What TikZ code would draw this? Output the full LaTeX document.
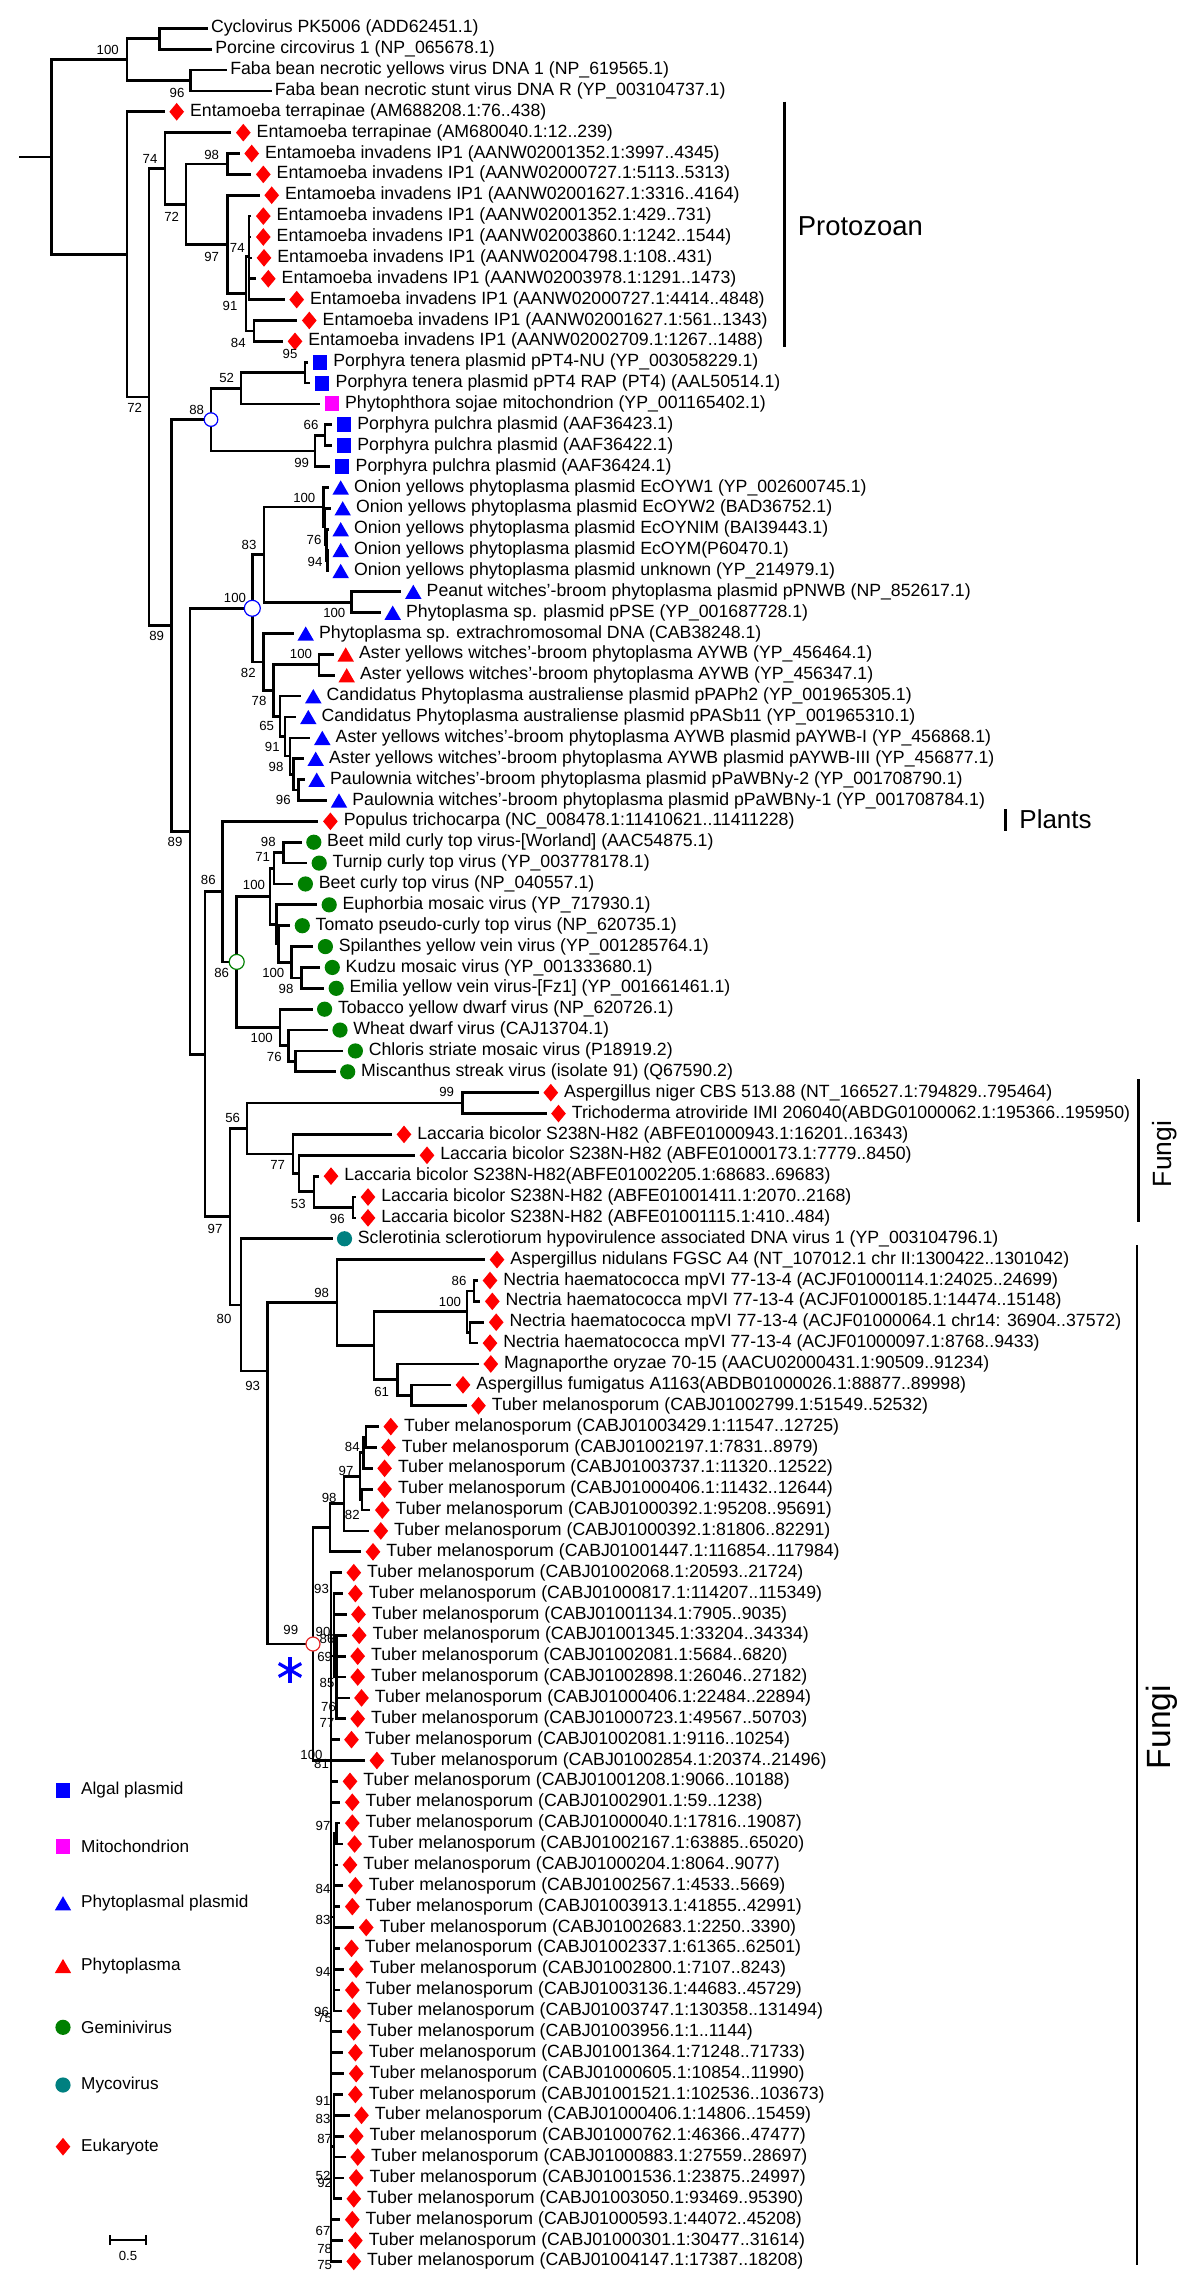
\documentclass[tikz,border=0pt]{standalone}
\usepackage{fontspec}
\setmainfont{Liberation Sans}
\usetikzlibrary{shapes.geometric}
\definecolor{mred}{RGB}{255,0,0}
\definecolor{mblue}{RGB}{0,0,255}
\definecolor{mmag}{RGB}{255,0,255}
\definecolor{mgreen}{RGB}{0,128,0}
\definecolor{mteal}{RGB}{0,128,128}
\newcommand{\lf}[5]{%
  \coordinate (e#2) at ({#4-12},{28.3+(#2-1)*20.87});
  \draw[br] (#1) |- (e#2);
  \node[#3] (m#2) at ({#4},{28.3+(#2-1)*20.87}) {};
  \node[lbl] (t#2) at ({#4+13},{28.3+(#2-1)*20.87}) {#5};}
\newcommand{\lfn}[4]{%
  \coordinate (e#2) at ({#3},{28.3+(#2-1)*20.87});
  \draw[br] (#1) |- (e#2);
  \node[lbl] (t#2) at ({#3+3},{28.3+(#2-1)*20.87}) {#4};}
\newcommand{\tmel}[1]{Tuber melanosporum (CABJ#1)}
\newcommand{\einv}[1]{Entamoeba invadens IP1 (AANW#1)}
\newcommand{\lbic}{Laccaria bicolor S238N-H82}
\newcommand{\nhae}{Nectria haematococca mpVI 77-13-4}
\begin{document}
\begin{tikzpicture}[x=0.5pt,y=-0.5pt,
  br/.style={line width=1.35pt, line join=miter},
  dia/.style={diamond, fill=mred, draw=none, minimum width=7.5pt, minimum height=9pt, inner sep=0pt},
  sqb/.style={rectangle, fill=mblue, draw=none, minimum width=7pt, minimum height=7.5pt, inner sep=0pt},
  sqm/.style={sqb, fill=mmag},
  trb/.style={regular polygon, regular polygon sides=3, fill=mblue, draw=none, minimum size=9.5pt, inner sep=0pt, yshift=-1.2pt},
  trr/.style={trb, fill=mred},
  cg/.style={circle, fill=mgreen, draw=none, minimum size=7.6pt, inner sep=0pt},
  ct/.style={cg, fill=mteal},
  lbl/.style={anchor=west, inner sep=0pt, font=\fontsize{8.85}{10}\selectfont},
  leg/.style={anchor=west, inner sep=0pt, font=\fontsize{8.6}{10}\selectfont},
  bs/.style={inner sep=0pt, font=\fontsize{6.6}{7}\selectfont},
  ocirc/.style={circle, fill=white, line width=0.6pt, inner sep=0pt},
  gbar/.style={line width=1.5pt},
  grp/.style={inner sep=0pt}
]
\fill[white] (0,0) rectangle (1200,2289);
\useasboundingbox (0,0) rectangle (1200,2289);

% ---------- internal nodes ----------
\coordinate (rs) at (19.2,157);
\coordinate (R) at (51.5,157);
\coordinate (CIRC) at (126.9,59.6);
\coordinate (CY) at (159.2,38.7);
\coordinate (FB) at (190.8,80.5);
\coordinate (B) at (126.9,254.4);
\coordinate (C) at (149,397);
\coordinate (D) at (165,168.4);
\coordinate (X72) at (186,204.2);
\coordinate (X98) at (227.7,164);
\coordinate (N97) at (227.7,244.5);
\coordinate (N91) at (246,293.8);
\coordinate (N74) at (249,256.7);
\coordinate (N84) at (254,330.9);
\coordinate (E) at (171.7,625.5);
\coordinate (N88) at (211,419.6);
\coordinate (N52) at (241,388.3);
\coordinate (N95) at (305,372.7);
\coordinate (N99p) at (315,450.9);
\coordinate (N66) at (325,435.3);
\coordinate (G) at (190,831.3);
\coordinate (H) at (252.3,608.3);
\coordinate (J) at (264,554.6);
\coordinate (O1) at (323.3,507);
\coordinate (O2) at (325,526.6);
\coordinate (O3) at (326.3,544.8);
\coordinate (O4) at (327.3,560.5);
\coordinate (PN) at (351.7,602.2);
\coordinate (K) at (263.3,662.1);
\coordinate (L) at (273.3,690.6);
\coordinate (AY) at (319,664.8);
\coordinate (M) at (280,716.4);
\coordinate (N) at (285,736.6);
\coordinate (O) at (290,756.1);
\coordinate (P) at (293.3,774.4);
\coordinate (Q) at (298.3,790.1);
\coordinate (I) at (205,1054.2);
\coordinate (PL) at (222.7,891.6);
\coordinate (GEM) at (236.7,961.9);
\coordinate (Gm1) at (270,896.4);
\coordinate (N71) at (274,868.3);
\coordinate (BM) at (283.3,852.7);
\coordinate (Gm2) at (276.7,924.4);
\coordinate (Gm3) at (278.3,944);
\coordinate (Gm4) at (291.7,962.2);
\coordinate (Gm5) at (301.7,977.9);
\coordinate (LG) at (280,1027.4);
\coordinate (W76) at (288.3,1045.7);
\coordinate (CM) at (295.7,1061.4);
\coordinate (FU) at (230,1216.8);
\coordinate (N56) at (247,1128.6);
\coordinate (AN) at (462.5,1103.1);
\coordinate (N77) at (293,1154);
\coordinate (LB2) at (299,1173.5);
\coordinate (N53) at (314,1191.8);
\coordinate (N96) at (353,1207.5);
\coordinate (N80) at (241,1304.9);
\coordinate (T93) at (267.7,1371);
\coordinate (A98) at (337,1302.7);
\coordinate (NX) at (374,1345.7);
\coordinate (N0) at (467,1311.8);
\coordinate (N86n) at (474,1290.9);
\coordinate (N1n) at (470,1332.7);
\coordinate (MG) at (397.7,1379.6);
\coordinate (M61) at (411.5,1395.3);
\coordinate (C99) at (313,1644);
\coordinate (S6) at (330,1527.7);
\coordinate (S5) at (344,1503.6);
\coordinate (S4) at (360,1476.2);
\coordinate (S2) at (363.5,1452.7);
\coordinate (S1) at (366,1437);
\coordinate (S3) at (362,1499.6);
\coordinate (L100) at (331,1760.5);
\coordinate (SA) at (334,1656);
\coordinate (SA2) at (336.5,1677);
\coordinate (SB) at (334,1917);
\coordinate (SB2) at (336.5,1833.7);
\coordinate (SC) at (334,2146.8);

% ---------- internal edges ----------
\draw[br] (rs) -- (R);
\foreach \p/\c in {R/CIRC,R/B,CIRC/CY,CIRC/FB,B/C,C/D,C/E,D/X72,X72/X98,X72/N97,N97/N91,N91/N74,N91/N84,
  E/N88,E/G,N88/N52,N88/N99p,N52/N95,N99p/N66,G/H,G/I,H/J,H/K,J/O1,J/PN,O1/O2,O2/O3,O3/O4,
  K/L,L/AY,L/M,M/N,N/O,O/P,P/Q,I/PL,I/FU,PL/GEM,GEM/Gm1,GEM/LG,Gm1/N71,N71/BM,Gm1/Gm2,Gm2/Gm3,Gm3/Gm4,Gm4/Gm5,
  LG/W76,W76/CM,FU/N56,FU/N80,N56/AN,N56/N77,N77/LB2,LB2/N53,N53/N96,N80/T93,T93/A98,T93/C99,A98/NX,NX/N0,NX/MG,
  N0/N86n,N0/N1n,MG/M61,C99/S6,C99/L100,S6/S5,S5/S4,S4/S2,S4/S3,S2/S1,L100/SA,SA/SA2,L100/SB,SB/SB2,L100/SC}
  {\draw[br] (\p) |- (\c);}

% ---------- leaves ----------
\lfn{CY}{1}{207.7}{Cyclovirus PK5006 (ADD62451.1)}
\lfn{CY}{2}{212}{Porcine circovirus 1 (NP\_065678.1)}
\lfn{FB}{3}{226.9}{Faba bean necrotic yellows virus DNA 1 (NP\_619565.1)}
\lfn{FB}{4}{271.5}{Faba bean necrotic stunt virus DNA R (YP\_003104737.1)}
\lf{B}{5}{dia}{176.7}{Entamoeba terrapinae (AM688208.1:76..438)}
\lf{D}{6}{dia}{243.3}{Entamoeba terrapinae (AM680040.1:12..239)}
\lf{X98}{7}{dia}{251.7}{\einv{02001352.1:3997..4345}}
\lf{X98}{8}{dia}{263.3}{\einv{02000727.1:5113..5313}}
\lf{N97}{9}{dia}{271.7}{\einv{02001627.1:3316..4164}}
\lf{N74}{10}{dia}{263.3}{\einv{02001352.1:429..731}}
\lf{N74}{11}{dia}{263.3}{\einv{02003860.1:1242..1544}}
\lf{N74}{12}{dia}{264}{\einv{02004798.1:108..431}}
\lf{N74}{13}{dia}{268.3}{\einv{02003978.1:1291..1473}}
\lf{N74}{14}{dia}{296.7}{\einv{02000727.1:4414..4848}}
\lf{N84}{15}{dia}{309.3}{\einv{02001627.1:561..1343}}
\lf{N84}{16}{dia}{295}{\einv{02002709.1:1267..1488}}
\lf{N95}{17}{sqb}{320}{Porphyra tenera plasmid pPT4-NU (YP\_003058229.1)}
\lf{N95}{18}{sqb}{322.3}{Porphyra tenera plasmid pPT4 RAP (PT4) (AAL50514.1)}
\lf{N52}{19}{sqm}{331.7}{Phytophthora sojae mitochondrion (YP\_001165402.1)}
\lf{N66}{20}{sqb}{344}{Porphyra pulchra plasmid (AAF36423.1)}
\lf{N66}{21}{sqb}{344}{Porphyra pulchra plasmid (AAF36422.1)}
\lf{N99p}{22}{sqb}{342.3}{Porphyra pulchra plasmid (AAF36424.1)}
\lf{O1}{23}{trb}{340.7}{Onion yellows phytoplasma plasmid EcOYW1 (YP\_002600745.1)}
\lf{O2}{24}{trb}{342.7}{Onion yellows phytoplasma plasmid EcOYW2 (BAD36752.1)}
\lf{O3}{25}{trb}{340.7}{Onion yellows phytoplasma plasmid EcOYNIM (BAI39443.1)}
\lf{O4}{26}{trb}{340.7}{Onion yellows phytoplasma plasmid EcOYM(P60470.1)}
\lf{O4}{27}{trb}{340.7}{Onion yellows phytoplasma plasmid unknown (YP\_214979.1)}
\lf{PN}{28}{trb}{413.3}{Peanut witches'-broom phytoplasma plasmid pPNWB (NP\_852617.1)}
\lf{PN}{29}{trb}{392.7}{Phytoplasma sp. plasmid pPSE (YP\_001687728.1)}
\lf{K}{30}{trb}{305.7}{Phytoplasma sp. extrachromosomal DNA (CAB38248.1)}
\lf{AY}{31}{trr}{345.7}{Aster yellows witches'-broom phytoplasma AYWB (YP\_456464.1)}
\lf{AY}{32}{trr}{346.7}{Aster yellows witches'-broom phytoplasma AYWB (YP\_456347.1)}
\lf{M}{33}{trb}{313.3}{Candidatus Phytoplasma australiense plasmid pPAPh2 (YP\_001965305.1)}
\lf{N}{34}{trb}{308.3}{Candidatus Phytoplasma australiense plasmid pPASb11 (YP\_001965310.1)}
\lf{O}{35}{trb}{322.3}{Aster yellows witches'-broom phytoplasma AYWB plasmid pAYWB-I (YP\_456868.1)}
\lf{P}{36}{trb}{315.7}{Aster yellows witches'-broom phytoplasma AYWB plasmid pAYWB-III (YP\_456877.1)}
\lf{Q}{37}{trb}{316.7}{Paulownia witches'-broom phytoplasma plasmid pPaWBNy-2 (YP\_001708790.1)}
\lf{Q}{38}{trb}{339}{Paulownia witches'-broom phytoplasma plasmid pPaWBNy-1 (YP\_001708784.1)}
\lf{PL}{39}{dia}{330.4}{Populus trichocarpa (NC\_008478.1:11410621..11411228)}
\lf{BM}{40}{cg}{313.8}{Beet mild curly top virus-[Worland] (AAC54875.1)}
\lf{BM}{41}{cg}{319.2}{Turnip curly top virus (YP\_003778178.1)}
\lf{N71}{42}{cg}{305.4}{Beet curly top virus (NP\_040557.1)}
\lf{Gm2}{43}{cg}{329.2}{Euphorbia mosaic virus (YP\_717930.1)}
\lf{Gm3}{44}{cg}{302.3}{Tomato pseudo-curly top virus (NP\_620735.1)}
\lf{Gm4}{45}{cg}{325.4}{Spilanthes yellow vein virus (YP\_001285764.1)}
\lf{Gm5}{46}{cg}{332.3}{Kudzu mosaic virus (YP\_001333680.1)}
\lf{Gm5}{47}{cg}{336.2}{Emilia yellow vein virus-[Fz1] (YP\_001661461.1)}
\lf{LG}{48}{cg}{324.6}{Tobacco yellow dwarf virus (NP\_620726.1)}
\lf{W76}{49}{cg}{340}{Wheat dwarf virus (CAJ13704.1)}
\lf{CM}{50}{cg}{355.4}{Chloris striate mosaic virus (P18919.2)}
\lf{CM}{51}{cg}{347.7}{Miscanthus streak virus (isolate 91) (Q67590.2)}
\lf{AN}{52}{dia}{550.8}{Aspergillus niger CBS 513.88 (NT\_166527.1:794829..795464)}
\lf{AN}{53}{dia}{558.5}{Trichoderma atroviride IMI 206040(ABDG01000062.1:195366..195950)}
\lf{N77}{54}{dia}{404}{\lbic{} (ABFE01000943.1:16201..16343)}
\lf{LB2}{55}{dia}{427}{\lbic{} (ABFE01000173.1:7779..8450)}
\lf{N53}{56}{dia}{331}{\lbic(ABFE01002205.1:68683..69683)}
\lf{N96}{57}{dia}{368}{\lbic{} (ABFE01001411.1:2070..2168)}
\lf{N96}{58}{dia}{368}{\lbic{} (ABFE01001115.1:410..484)}
\lf{N80}{59}{ct}{344.5}{Sclerotinia sclerotiorum hypovirulence associated DNA virus 1 (YP\_003104796.1)}
\lf{A98}{60}{dia}{497}{Aspergillus nidulans FGSC A4 (NT\_107012.1 chr II:1300422..1301042)}
\lf{N86n}{61}{dia}{490}{\nhae{} (ACJF01000114.1:24025..24699)}
\lf{N86n}{62}{dia}{492.3}{\nhae{} (ACJF01000185.1:14474..15148)}
\lf{N1n}{63}{dia}{496.2}{\nhae{} (ACJF01000064.1 chr14: 36904..37572)}
\lf{N1n}{64}{dia}{490}{\nhae{} (ACJF01000097.1:8768..9433)}
\lf{MG}{65}{dia}{490.8}{Magnaporthe oryzae 70-15 (AACU02000431.1:90509..91234)}
\lf{M61}{66}{dia}{463}{Aspergillus fumigatus A1163(ABDB01000026.1:88877..89998)}
\lf{M61}{67}{dia}{478.5}{\tmel{01002799.1:51549..52532}}
\lf{S1}{68}{dia}{390.8}{\tmel{01003429.1:11547..12725}}
\lf{S1}{69}{dia}{388.5}{\tmel{01002197.1:7831..8979}}
\lf{S2}{70}{dia}{384.6}{\tmel{01003737.1:11320..12522}}
\lf{S3}{71}{dia}{384.6}{\tmel{01000406.1:11432..12644}}
\lf{S3}{72}{dia}{382.3}{\tmel{01000392.1:95208..95691}}
\lf{S5}{73}{dia}{380.8}{\tmel{01000392.1:81806..82291}}
\lf{S6}{74}{dia}{373}{\tmel{01001447.1:116854..117984}}
\lf{L100}{75}{dia}{353.8}{\tmel{01002068.1:20593..21724}}
\lf{SA}{76}{dia}{355.4}{\tmel{01000817.1:114207..115349}}
\lf{SA}{77}{dia}{358.5}{\tmel{01001134.1:7905..9035}}
\lf{SA2}{78}{dia}{359.2}{\tmel{01001345.1:33204..34334}}
\lf{SA2}{79}{dia}{357.7}{\tmel{01002081.1:5684..6820}}
\lf{SA2}{80}{dia}{357.7}{\tmel{01002898.1:26046..27182}}
\lf{SA2}{81}{dia}{361.5}{\tmel{01000406.1:22484..22894}}
\lf{SA2}{82}{dia}{357.7}{\tmel{01000723.1:49567..50703}}
\lf{L100}{83}{dia}{351.5}{\tmel{01002081.1:9116..10254}}
\lf{L100}{84}{dia}{376.9}{\tmel{01002854.1:20374..21496}}
\lf{L100}{85}{dia}{350}{\tmel{01001208.1:9066..10188}}
\lf{L100}{86}{dia}{352.3}{\tmel{01002901.1:59..1238}}
\lf{SB2}{87}{dia}{352.3}{\tmel{01000040.1:17816..19087}}
\lf{SB2}{88}{dia}{354.6}{\tmel{01002167.1:63885..65020}}
\lf{SB}{89}{dia}{350}{\tmel{01000204.1:8064..9077}}
\lf{SB}{90}{dia}{355.4}{\tmel{01002567.1:4533..5669}}
\lf{SB}{91}{dia}{352.3}{\tmel{01003913.1:41855..42991}}
\lf{SB}{92}{dia}{366.2}{\tmel{01002683.1:2250..3390}}
\lf{SB}{93}{dia}{351.5}{\tmel{01002337.1:61365..62501}}
\lf{SB}{94}{dia}{356.2}{\tmel{01002800.1:7107..8243}}
\lf{SB}{95}{dia}{352.3}{\tmel{01003136.1:44683..45729}}
\lf{SB}{96}{dia}{353.8}{\tmel{01003747.1:130358..131494}}
\lf{L100}{97}{dia}{353.8}{\tmel{01003956.1:1..1144}}
\lf{L100}{98}{dia}{355.4}{\tmel{01001364.1:71248..71733}}
\lf{L100}{99}{dia}{356.2}{\tmel{01000605.1:10854..11990}}
\lf{SC}{100}{dia}{355.4}{\tmel{01001521.1:102536..103673}}
\lf{SC}{101}{dia}{361.5}{\tmel{01000406.1:14806..15459}}
\lf{SC}{102}{dia}{356.2}{\tmel{01000762.1:46366..47477}}
\lf{SC}{103}{dia}{357.7}{\tmel{01000883.1:27559..28697}}
\lf{SC}{104}{dia}{356.2}{\tmel{01001536.1:23875..24997}}
\lf{SC}{105}{dia}{353.8}{\tmel{01003050.1:93469..95390}}
\lf{L100}{106}{dia}{352.3}{\tmel{01000593.1:44072..45208}}
\lf{L100}{107}{dia}{355.4}{\tmel{01000301.1:30477..31614}}
\lf{L100}{108}{dia}{353.8}{\tmel{01004147.1:17387..18208}}

% ---------- open circles at nodes ----------
\node[ocirc, draw=mblue, minimum size=6.8pt] (cN88) at (N88) {};
\node[ocirc, draw=mblue, minimum size=8pt] (cH) at (H) {};
\node[ocirc, draw=mgreen, minimum size=7.5pt] (cGEM) at (GEM) {};
\node[ocirc, draw={rgb,255:red,230;green,40;blue,40}, minimum size=7pt] (cC99) at (C99) {};

% ---------- asterisk ----------
\coordinate (ast) at (290,1670);
\draw[mblue, line width=1.6pt] ([yshift=6.5pt]ast) -- ([yshift=-6.5pt]ast);
\draw[mblue, line width=1.6pt] ([shift={(30:6.5pt)}]ast) -- ([shift={(210:6.5pt)}]ast);
\draw[mblue, line width=1.6pt] ([shift={(150:6.5pt)}]ast) -- ([shift={(330:6.5pt)}]ast);

% ---------- bootstrap values ----------
\foreach \x/\y/\t [count=\i] in {
 107.7/50/100, 177/93.3/96, 150/159.3/74, 211.7/155/98, 171.7/217.3/72, 211.7/256.7/97, 237.3/248.3/74,
 230/306/91, 238.3/343.3/84, 134.6/408.3/72, 290/354/95, 226.7/378.3/52, 196.7/410/88, 311/425/66,
 301.7/462.7/99, 304.3/497.7/100, 249/545/83, 314/540/76, 315/561.7/94, 235/597.7/100, 334.3/612.7/100,
 156.7/636/89, 301/654/100, 248.3/673.3/82, 259/701/78, 266.7/726/65, 272.3/746.7/91, 276/766.7/98,
 283.3/800/96, 175/841.7/89, 268.3/841.7/98, 262.7/856.7/71, 208.3/879.7/86, 254/884.6/100,
 221.7/973/86, 273.3/973/100, 286/988.6/98, 261.7/1038.2/100, 274.3/1057.3/76, 446.7/1092/99,
 232.7/1118/56, 277.7/1164.8/77, 298.3/1203.7/53, 337.3/1218.6/96, 215/1229/97, 459/1281/86,
 321.7/1293.2/98, 450/1301.8/100, 224/1318.5/80, 252.7/1386/93, 381.7/1392/61,
 352.3/1446.7/84, 346/1470.7/97, 329.2/1497.7/98, 352.3/1515/82, 321.5/1589.3/93, 290.8/1630/99,
 323/1631.7/90, 327/1639/86, 324.6/1657.3/69, 327/1683.3/85, 328.5/1706.7/76, 327/1722.7/77,
 311.5/1755/100, 321.5/1764/81, 323/1826/97, 323/1889/84, 323/1920/83, 323/1972.3/94,
 321.5/2011.7/96, 324.6/2018.3/75, 323/2101/91, 323/2119.3/83, 324.6/2139.3/87, 323/2176/52,
 324.6/2183.3/92, 323/2231/67, 324.6/2249/78, 324.6/2265/75}
 {\node[bs] (bs\i) at (\x,\y) {\t};}

% ---------- group bars and labels ----------
\coordinate (pz1) at (784.6,101.7); \coordinate (pz2) at (784.6,347.3);
\draw[gbar] (pz1) -- (pz2);
\node[grp, font=\fontsize{13.7}{15}\selectfont] (protoz) at (860.4,226) {Protozoan};
\coordinate (pl1) at (1005.4,809.3); \coordinate (pl2) at (1005.4,830.7);
\draw[gbar] (pl1) -- (pl2);
\node[grp, anchor=west, font=\fontsize{13}{15}\selectfont] (plants) at (1019,819.3) {Plants};
\coordinate (fu1) at (1138.5,1079.3); \coordinate (fu2) at (1138.5,1221.7);
\draw[line width=1.2pt] (fu1) -- (fu2);
\node[grp, rotate=90, font=\fontsize{13.2}{15}\selectfont] (fungi1) at (1165,1154) {Fungi};
\coordinate (fl1) at (1137,1245); \coordinate (fl2) at (1137,2265);
\draw[line width=1pt] (fl1) -- (fl2);
\node[grp, rotate=90, font=\fontsize{16.8}{18}\selectfont] (fungi2) at (1162,1727) {Fungi};

% ---------- legend ----------
\node[sqb] (lg1) at (63,1790) {};   \node[leg] (lt1) at (80.8,1790) {Algal plasmid};
\node[sqm] (lg2) at (63,1846.7) {}; \node[leg] (lt2) at (80.8,1846.7) {Mitochondrion};
\node[trb] (lg3) at (63,1903.3) {}; \node[leg] (lt3) at (80.8,1903.3) {Phytoplasmal plasmid};
\node[trr] (lg4) at (63,1966) {};   \node[leg] (lt4) at (80.8,1966) {Phytoplasma};
\node[cg] (lg5) at (63,2027.3) {};  \node[leg] (lt5) at (80.8,2027.3) {Geminivirus};
\node[ct] (lg6) at (63,2085) {};    \node[leg] (lt6) at (80.8,2085) {Mycovirus};
\node[dia] (lg7) at (63,2146.7) {}; \node[leg] (lt7) at (80.8,2146.7) {Eukaryote};

% ---------- scale bar ----------
\coordinate (sb1) at (110,2240); \coordinate (sb2) at (146.2,2240);
\draw[line width=0.8pt] (sb1) -- (sb2);
\draw[line width=0.8pt] ([yshift=2.5pt]sb1) -- ([yshift=-2.5pt]sb1);
\draw[line width=0.8pt] ([yshift=2.5pt]sb2) -- ([yshift=-2.5pt]sb2);
\node[bs] (sbl) at (128,2256) {0.5};
\end{tikzpicture}
\end{document}
